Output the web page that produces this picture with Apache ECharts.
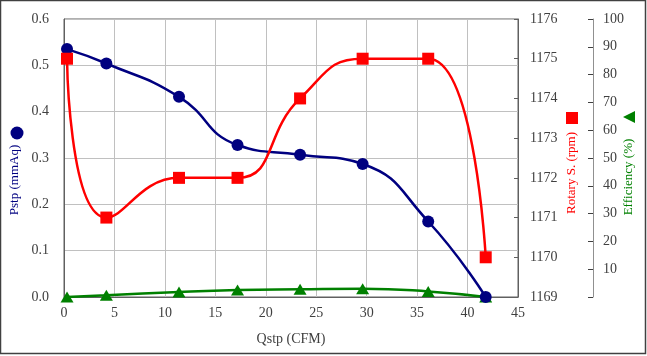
<!DOCTYPE html>
<html><head><meta charset="utf-8">
<script src="https://cdn.jsdelivr.net/npm/echarts@6/dist/echarts.min.js"></script>
<style>html,body{margin:0;padding:0;background:#fff}#c{width:647px;height:356px}</style>
</head><body><div id="c"></div>
<script>
var qstp = [0.3, 4.2, 11.4, 17.2, 23.4, 29.6, 36.1, 41.8];
var pstp = [0.535, 0.504, 0.432, 0.328, 0.307, 0.287, 0.163, 0.0];
var rotary = [1175, 1171, 1172, 1172, 1174, 1175, 1175, 1170];
var efficiency = [0, 0.6, 1.8, 2.5, 2.8, 3.0, 2.0, 0];
var xTicks = [0, 5, 10, 15, 20, 25, 30, 35, 40, 45];

function pairs(ys){ return qstp.map(function(x,i){return [x, ys[i]];}); }
var font = '"Liberation Serif", "Times New Roman", serif';
var chart = echarts.init(document.getElementById('c'));
chart.setOption({
  animation: false,
  textStyle: {fontFamily: font},
  grid: {left: 64, right: 129, top: 19, bottom: 59, show: true, borderColor: '#606060', borderWidth: 1},
  xAxis: {
    type: 'value', min: xTicks[0], max: xTicks[xTicks.length-1], interval: 5,
    name: 'Qstp (CFM)', nameLocation: 'middle', nameGap: 35,
    nameTextStyle: {color: '#404040', fontSize: 14, fontFamily: font},
    axisLine: {show: true, lineStyle: {color: '#606060'}},
    axisTick: {show: false},
    axisLabel: {color: '#404040', fontSize: 14, margin: 9, fontFamily: font},
    splitLine: {show: true, lineStyle: {color: '#c0c0c0'}}
  },
  yAxis: [{
    type: 'value', min: 0, max: 0.6, interval: 0.1, position: 'left',
    axisLine: {show: true, lineStyle: {color: '#606060'}},
    axisTick: {show: false},
    axisLabel: {color: '#404040', fontSize: 14, margin: 15, fontFamily: font, formatter: function(v){return v.toFixed(1);}},
    splitLine: {show: true, lineStyle: {color: '#c0c0c0'}}
  }, {
    type: 'value', min: 1169, max: 1176, interval: 1, position: 'right',
    axisLine: {show: true, lineStyle: {color: '#606060'}},
    axisTick: {show: true, inside: true, length: 4, lineStyle: {color: '#606060'}},
    axisLabel: {color: '#404040', fontSize: 14, margin: 12, fontFamily: font, formatter: function(v){return String(v);}},
    splitLine: {show: false}
  }, {
    type: 'value', min: 0, max: 100, interval: 10, position: 'right', offset: 75,
    axisLine: {show: true, lineStyle: {color: '#909090'}},
    axisTick: {show: true, inside: true, length: 5, lineStyle: {color: '#404040'}},
    axisLabel: {color: '#404040', fontSize: 14, margin: 10, fontFamily: font, formatter: function(v){return v===0?'':String(v);}},
    splitLine: {show: false}
  }],
  series: [{
    type: 'line', yAxisIndex: 2, data: pairs(efficiency), smooth: 0.5,
    symbol: 'triangle', symbolSize: [13, 11],
    lineStyle: {color: '#008000', width: 2.5}, itemStyle: {color: '#008000'}
  }, {
    type: 'line', yAxisIndex: 0, data: pairs(pstp), smooth: 0.5,
    symbol: 'circle', symbolSize: 12,
    lineStyle: {color: '#000080', width: 2.5}, itemStyle: {color: '#000080'}
  }, {
    type: 'line', yAxisIndex: 1, data: pairs(rotary), smooth: 0.5,
    symbol: 'rect', symbolSize: 12,
    lineStyle: {color: '#ff0000', width: 2.5}, itemStyle: {color: '#ff0000'}
  }],
  graphic: [
    {type: 'rect', shape: {x: 0.5, y: 0.5, width: 645, height: 353}, style: {fill: 'none', stroke: '#404040', lineWidth: 1.5}, silent: true},
    {type: 'text', x: 15, y: 180, rotation: Math.PI/2, style: {text: 'Pstp (mmAq)', fill: '#000080', font: '13px ' + font, textAlign: 'center', textVerticalAlign: 'middle'}},
    {type: 'circle', shape: {cx: 17, cy: 133, r: 6.5}, style: {fill: '#000080'}},
    {type: 'text', x: 572, y: 173, rotation: Math.PI/2, style: {text: 'Rotary S. (rpm)', fill: '#ff0000', font: '13px ' + font, textAlign: 'center', textVerticalAlign: 'middle'}},
    {type: 'rect', shape: {x: 566, y: 112, width: 12, height: 12}, style: {fill: '#ff0000'}},
    {type: 'text', x: 629, y: 177, rotation: Math.PI/2, style: {text: 'Efficiency (%)', fill: '#008000', font: '13px ' + font, textAlign: 'center', textVerticalAlign: 'middle'}},
    {type: 'polygon', shape: {points: [[623,117],[635,111],[635,123]]}, style: {fill: '#008000'}}
  ]
});
</script></body></html>
